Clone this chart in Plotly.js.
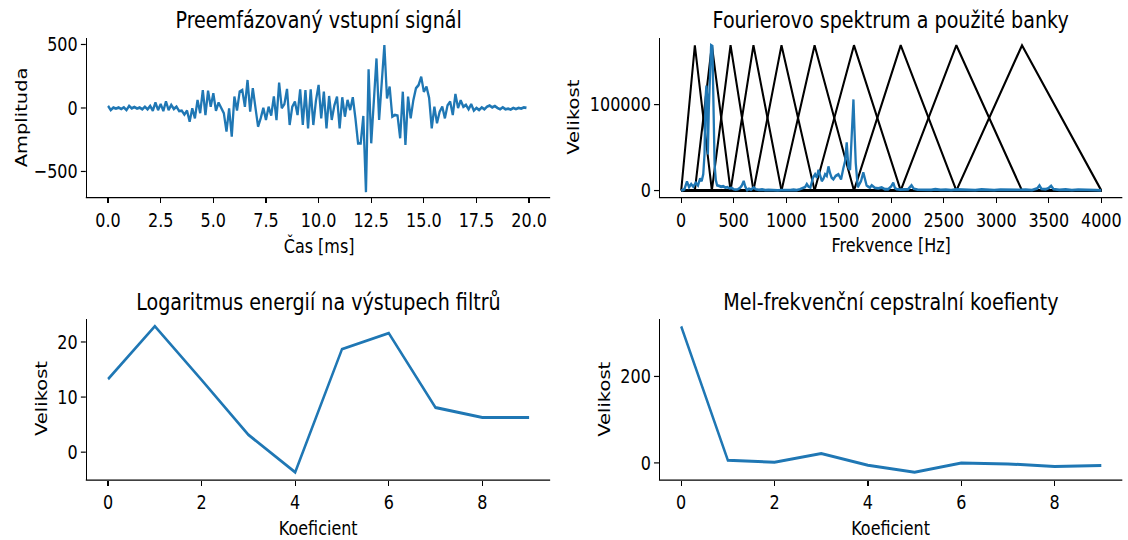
<!DOCTYPE html>
<html><head><meta charset="utf-8">
<script src="https://cdn.plot.ly/plotly-3.0.1.min.js"></script>
<style>html,body{margin:0;padding:0;background:#fff;overflow:hidden;width:1128px;height:540px}
#chart{height:540px;transform-origin:0 0}</style>
</head><body><div id="chart"></div>
<script>
// Preemphasized input signal, 8 kHz sampling (0.125 ms per sample)
const signalDt = 0.125;
const signalValues = [
 16,-16,3,-5,3,-8,5,-16,16,-3,
 8,-5,3,-10,10,-10,16,-21,42,-16,
 31,-24,52,-16,24,-8,10,-24,-21,-52,
 -21,-107,-3,-81,63,-40,141,-55,136,10,
 115,-21,42,-3,-42,-186,-3,-225,89,-20,
 128,141,10,220,-29,155,0,-147,-81,0,
 -94,10,-60,90,-95,200,0,30,150,-134,
 10,50,-55,147,-134,141,-160,147,-134,60,
 181,-81,128,-160,94,-94,20,89,-160,84,
 -68,63,-16,84,-81,-278,-278,-63,-663,304,
 -278,100,390,-94,200,495,76,168,-68,-55,
 -60,-238,128,-291,89,-81,60,155,180,246,
 128,168,80,-160,10,-120,-30,10,-81,20,
 50,-55,110,0,60,10,24,-10,30,-20,
 0,-16,5,-10,10,20,5,15,0,-10,
 5,-10,-5,-12,0,-8,0,-5,5,0
];

// Fourier spectrum
const specFreq = [0,30,55,75,95,115,140,160,180,195,210,222,232,240,247,254,263,275,285,297,308,318,330,342,360,380,400,420,440,460,480,500,520,540,560,578,595,612,628,645,665,690,710,740,770,800,830,860,890,920,950,980,1010,1040,1070,1100,1130,1160,1180,1196,1212,1230,1255,1275,1292,1307,1323,1339,1355,1370,1386,1402,1418,1432,1449,1471,1497,1522,1544,1560,1576,1592,1608,1624,1640,1650,1662,1681,1697,1712,1734,1750,1765,1782,1798,1814,1830,1845,1877,1909,1940,1970,2000,2019,2035,2051,2085,2120,2160,2193,2215,2250,2290,2330,2380,2420,2470,2520,2570,2620,2680,2740,2800,2860,2920,2980,3040,3100,3160,3220,3280,3340,3390,3411,3430,3470,3500,3522,3545,3600,3660,3720,3780,3840,3900,3950,4000];
const specMag = [0,1500,10500,4000,7500,4500,9000,6000,14000,11000,19000,42000,108000,122000,110000,42000,95000,150000,169000,168000,100000,30000,12000,6000,5500,4500,5000,3500,4000,2500,3000,1500,1000,1500,3000,6000,11000,4000,500,2000,1000,3500,1500,800,1200,500,800,400,600,300,500,300,700,400,900,600,1500,2500,4000,7500,4500,3500,15000,19000,15000,24000,17000,11000,14000,19000,17000,28000,20000,15000,13000,17000,19000,13000,26000,34000,56000,27000,24000,65000,106000,70000,32000,4000,8000,11000,21000,12000,6000,4500,3500,6000,4000,3000,2500,3500,1500,1500,5000,9000,3000,1500,1000,1000,1500,6000,2000,1000,800,1200,800,1500,700,1000,600,1200,800,1000,500,1200,800,600,1000,700,1200,800,1000,600,2500,6000,2000,1500,3000,5500,1500,800,1200,600,1000,500,800,400,200];

// Mel filter bank edge / centre frequencies (Hz)
const melPoints = [0,130,292,470,688,955,1270,1645,2090,2620,3245,4000];

// Log filter-bank energies and MFCCs
const coefIndex = [0,1,2,3,4,5,6,7,8,9];
const logEnergies = [13.27,22.85,13.1,3.15,-3.64,18.7,21.6,8.1,6.3,6.3];
const mfcc = [316,6.2,1.5,21.5,-5.4,-21.5,0,-2.3,-8.5,-6.2];

// The reference figure is horizontally compressed; draw wider and squeeze with CSS.
const SQUEEZE = 0.82;
const FONT = "'DejaVu Sans', sans-serif";
const BLUE = '#1f77b4';
const W = 1128, H = 540;
const WP = Math.round(W / SQUEEZE);
const chartDiv = document.getElementById('chart');
chartDiv.style.width = WP + 'px';
chartDiv.style.transform = 'scaleX(' + SQUEEZE + ')';
const px = x => x / W;
const py = y => 1 - y / H;

const traces = [];
traces.push({x0: 0, dx: signalDt, y: signalValues, type: 'scatter', mode: 'lines',
  line: {color: BLUE, width: 2.8}, xaxis: 'x', yaxis: 'y', hoverinfo: 'skip'});

const peak = Math.max(...specMag);
for (let i = 1; i < melPoints.length - 1; i++) {
  traces.push({x: [melPoints[0], melPoints[i-1], melPoints[i], melPoints[i+1], melPoints[melPoints.length-1]],
    y: [0, 0, peak, 0, 0], type: 'scatter', mode: 'lines',
    line: {color: '#000', width: 2.5}, xaxis: 'x2', yaxis: 'y2', hoverinfo: 'skip'});
}
traces.push({x: specFreq, y: specMag, type: 'scatter', mode: 'lines',
  line: {color: BLUE, width: 2.8}, xaxis: 'x2', yaxis: 'y2', hoverinfo: 'skip'});
traces.push({x: coefIndex, y: logEnergies, type: 'scatter', mode: 'lines',
  line: {color: BLUE, width: 3}, xaxis: 'x3', yaxis: 'y3', hoverinfo: 'skip'});
traces.push({x: coefIndex, y: mfcc, type: 'scatter', mode: 'lines',
  line: {color: BLUE, width: 3}, xaxis: 'x4', yaxis: 'y4', hoverinfo: 'skip'});

function ax(domain, range, isY, extra) {
  return Object.assign({domain: domain, range: range, showline: true, linecolor: '#000', linewidth: isY ? 1.5 : 1.2,
    ticks: 'outside', ticklen: isY ? 6 : 5, tickwidth: isY ? 1.2 : 1.5, tickcolor: '#000', showgrid: false, zeroline: false,
    tickfont: {family: FONT, size: 19.5, color: '#000'}, automargin: false, fixedrange: true}, extra);
}
const xL = [px(87), px(550)], xR = [px(660), px(1122)];
const yT = [py(197), py(38)], yB = [py(479.5), py(319)];

const layout = {
  width: WP, height: H, margin: {l: 0, r: 0, t: 0, b: 0},
  paper_bgcolor: '#fff', plot_bgcolor: '#fff', showlegend: false,
  font: {family: FONT, color: '#000'},
  xaxis: ax(xL, [-1, 21], false, {dtick: 2.5, tick0: 0, tickformat: '.1f', anchor: 'y'}),
  yaxis: ax(yT, [-701, 551], true, {dtick: 500, tick0: 0, anchor: 'x'}),
  xaxis2: ax(xR, [-200, 4200], false, {dtick: 500, tick0: 0, anchor: 'y2'}),
  yaxis2: ax(yT, [-7500, 177500], true, {dtick: 100000, tick0: 0, tickformat: 'd', anchor: 'x2'}),
  xaxis3: ax(xL, [-0.45, 9.45], false, {dtick: 2, tick0: 0, anchor: 'y3'}),
  yaxis3: ax(yB, [-4.96, 24.17], true, {dtick: 10, tick0: 0, anchor: 'x3'}),
  xaxis4: ax(xR, [-0.45, 9.45], false, {dtick: 2, tick0: 0, anchor: 'y4'}),
  yaxis4: ax(yB, [-38.4, 332.9], true, {dtick: 200, tick0: 0, anchor: 'x4'}),
  annotations: []
};
function ann(text, x, y, size, angle) {
  layout.annotations.push({text: text, x: px(x), y: py(y), xref: 'paper', yref: 'paper',
    xanchor: 'center', yanchor: 'middle', showarrow: false, textangle: angle || 0,
    font: {family: FONT, size: size, color: '#000'}});
}
ann('Preemfázovaný vstupní signál', 318.5, 19, 23.3);
ann('Fourierovo spektrum a použité banky', 891, 19, 23.3);
ann('Logaritmus energií na výstupech filtrů', 318.5, 301, 23.3);
ann('Mel-frekvenční cepstralní koefienty', 891, 301, 23.3);
ann('Čas [ms]', 318.5, 246, 19.5);
ann('Frekvence [Hz]', 891, 246, 19.5);
ann('Koeficient', 318.5, 528, 19.5);
ann('Koeficient', 891, 528, 19.5);
ann('Amplituda', 22, 117.5, 19.5, -90);
ann('Velikost', 574, 117.5, 19.5, -90);
ann('Velikost', 41, 399, 19.5, -90);
ann('Velikost', 604, 399, 19.5, -90);

Plotly.newPlot('chart', traces, layout, {staticPlot: true, displayModeBar: false});
</script></body></html>
